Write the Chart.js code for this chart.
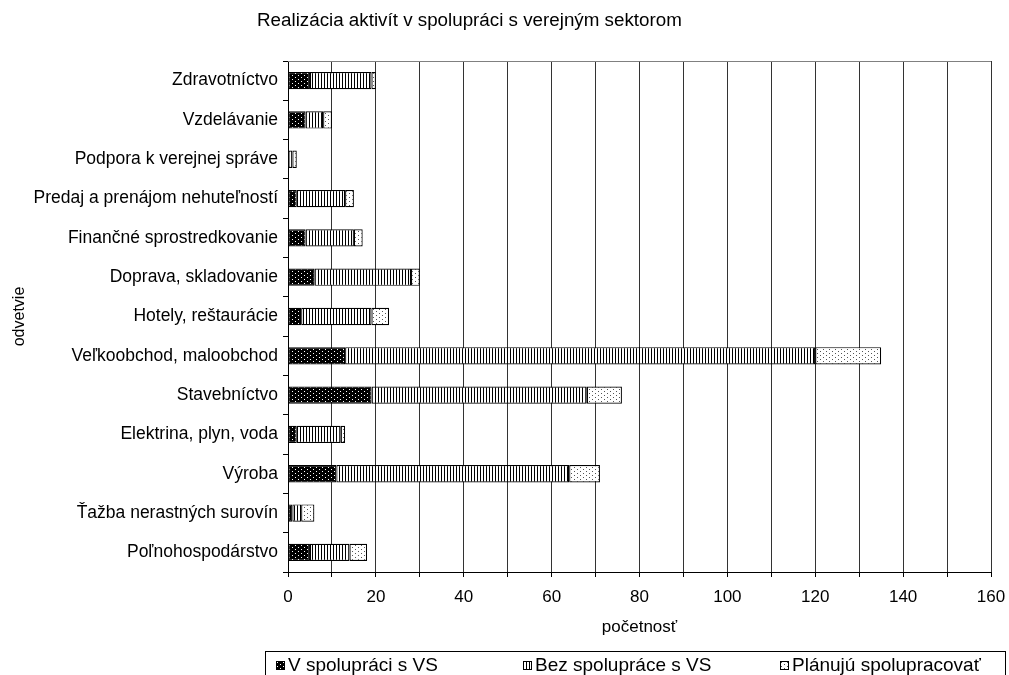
<!DOCTYPE html>
<html>
<head>
<meta charset="utf-8">
<script src="https://cdn.jsdelivr.net/npm/chart.js@4.4.0/dist/chart.umd.min.js"></script>
<style>
  html, body { margin: 0; padding: 0; background: #fff; }
  #wrap { position: relative; width: 1009px; height: 675px; overflow: hidden;
          font-family: "Liberation Sans", Arial, sans-serif; color: #000; }
  #title { position: absolute; top: 9px; left: 257px; font-size: 18.8px; white-space: nowrap; }
  #legend { position: absolute; left: 265px; top: 651px; width: 741px; height: 34px;
            border: 1px solid #000; box-sizing: border-box; }
  #legend .item { position: absolute; top: 0; display: flex; align-items: center;
                  height: 26px; font-size: 19px; white-space: nowrap; }
  #legend canvas { margin-right: 3px; }
</style>
</head>
<body>
<div id="wrap">
  <canvas id="c" width="1009" height="675"></canvas>
  <div id="title">Realizácia aktivít v spolupráci s verejným sektorom</div>
  <div id="legend"></div>
</div>
<script>
// odvetvia, zhora nadol
const categories = [
  "Zdravotníctvo",
  "Vzdelávanie",
  "Podpora k verejnej správe",
  "Predaj a prenájom nehuteľností",
  "Finančné sprostredkovanie",
  "Doprava, skladovanie",
  "Hotely, reštaurácie",
  "Veľkoobchod, maloobchod",
  "Stavebníctvo",
  "Elektrina, plyn, voda",
  "Výroba",
  "Ťažba nerastných surovín",
  "Poľnohospodárstvo"
];
const vSpolupraci   = [5, 4, 0, 2, 4, 6, 3, 13, 19, 2, 11, 1, 5];
const bezSpoluprace = [14, 4, 1, 11, 11, 22, 16, 107, 49, 10, 53, 2, 9];
const planuju       = [1, 2, 1, 2, 2, 2, 4, 15, 8, 1, 7, 3, 4];
const seriesNames = ["V spolupráci s VS", "Bez spolupráce s VS", "Plánujú spolupracovať"];
const xTickLabels = [0, 20, 40, 60, 80, 100, 120, 140, 160];

const CANVAS = document.getElementById("c");
const ctx = CANVAS.getContext("2d");

// small pattern tiles
function tile(w, h, bg, fg, pts) {
  const t = document.createElement("canvas");
  t.width = w; t.height = h;
  const g = t.getContext("2d");
  g.fillStyle = bg; g.fillRect(0, 0, w, h);
  g.fillStyle = fg;
  pts.forEach(p => g.fillRect(p[0], p[1], 1, 1));
  return t;
}
const tiles = [
  tile(6, 4, "#000", "#fff", [[1, 1], [4, 3]]),
  tile(3, 1, "#fff", "#000", [[0, 0]]),
  tile(6, 4, "#fff", "#555", [[1, 1], [4, 3]])
];
const patterns = tiles.map(t => ctx.createPattern(t, "repeat"));

const plotFrame = {
  id: "plotFrame",
  afterDraw(chart) {
    const a = chart.chartArea, c = chart.ctx;
    c.save();
    c.strokeStyle = "#808080";
    c.lineWidth = 1;
    c.beginPath();
    c.moveTo(a.left, a.top + 0.5);
    c.lineTo(a.right, a.top + 0.5);
    c.stroke();
    c.restore();
  }
};

const values = [vSpolupraci, bezSpoluprace, planuju];

let barChart = new Chart(CANVAS, {
  type: "bar",
  data: {
    labels: categories,
    datasets: values.map((v, i) => ({
      label: seriesNames[i],
      data: v,
      backgroundColor: patterns[i],
      borderColor: "#000",
      borderWidth: 1.2,
      borderSkipped: false,
      barPercentage: 0.44,
      categoryPercentage: 1
    }))
  },
  options: {
    indexAxis: "y",
    responsive: false,
    animation: false,
    layout: { padding: { top: 61, right: 18, bottom: 24, left: 0 } },
    plugins: {
      legend: { display: false },
      title: { display: false },
      tooltip: { enabled: false }
    },
    scales: {
      x: {
        stacked: true,
        min: 0,
        max: 160,
        afterFit: s => { s.height = 79; s.paddingLeft = 0; s.paddingRight = 0; },
        ticks: {
          stepSize: 10,
          autoSkip: false,
          maxRotation: 0,
          color: "#000",
          font: { family: "Liberation Sans", size: 17 },
          padding: 10,
          callback: v => xTickLabels.includes(v) ? String(v) : ""
        },
        grid: { color: "#333", lineWidth: 1, drawTicks: true, tickLength: 5, tickColor: "#000" },
        border: { display: true, color: "#000" },
        title: {
          display: true,
          text: "početnosť",
          color: "#000",
          font: { family: "Liberation Sans", size: 17 },
          padding: { top: 0, bottom: 13 }
        }
      },
      y: {
        stacked: true,
        afterFit: s => { s.width = 288; },
        ticks: {
          color: "#000",
          font: { family: "Liberation Sans", size: 17.5 },
          padding: 5
        },
        grid: { display: true, drawOnChartArea: false, drawTicks: true, tickLength: 5, tickColor: "#000", offset: true },
        border: { display: true, color: "#000" },
        title: {
          display: true,
          text: "odvetvie",
          color: "#000",
          font: { family: "Liberation Sans", size: 16 },
          padding: { top: 10, bottom: 0 }
        }
      }
    }
  },
  plugins: [plotFrame]
});

// legend with pattern swatches
const legendLeft = [10, 257, 514];
const legendEl = document.getElementById("legend");
barChart.data.datasets.forEach((ds, i) => {
  const item = document.createElement("div");
  item.className = "item";
  item.style.left = legendLeft[i] + "px";
  const sw = document.createElement("canvas");
  sw.width = 9; sw.height = 9;
  const g = sw.getContext("2d");
  g.fillStyle = g.createPattern(tiles[i], "repeat");
  g.fillRect(0, 0, 9, 9);
  g.strokeStyle = "#000";
  g.strokeRect(0.5, 0.5, 8, 8);
  const txt = document.createElement("span");
  txt.textContent = ds.label;
  item.appendChild(sw);
  item.appendChild(txt);
  legendEl.appendChild(item);
});
</script>
</body>
</html>
